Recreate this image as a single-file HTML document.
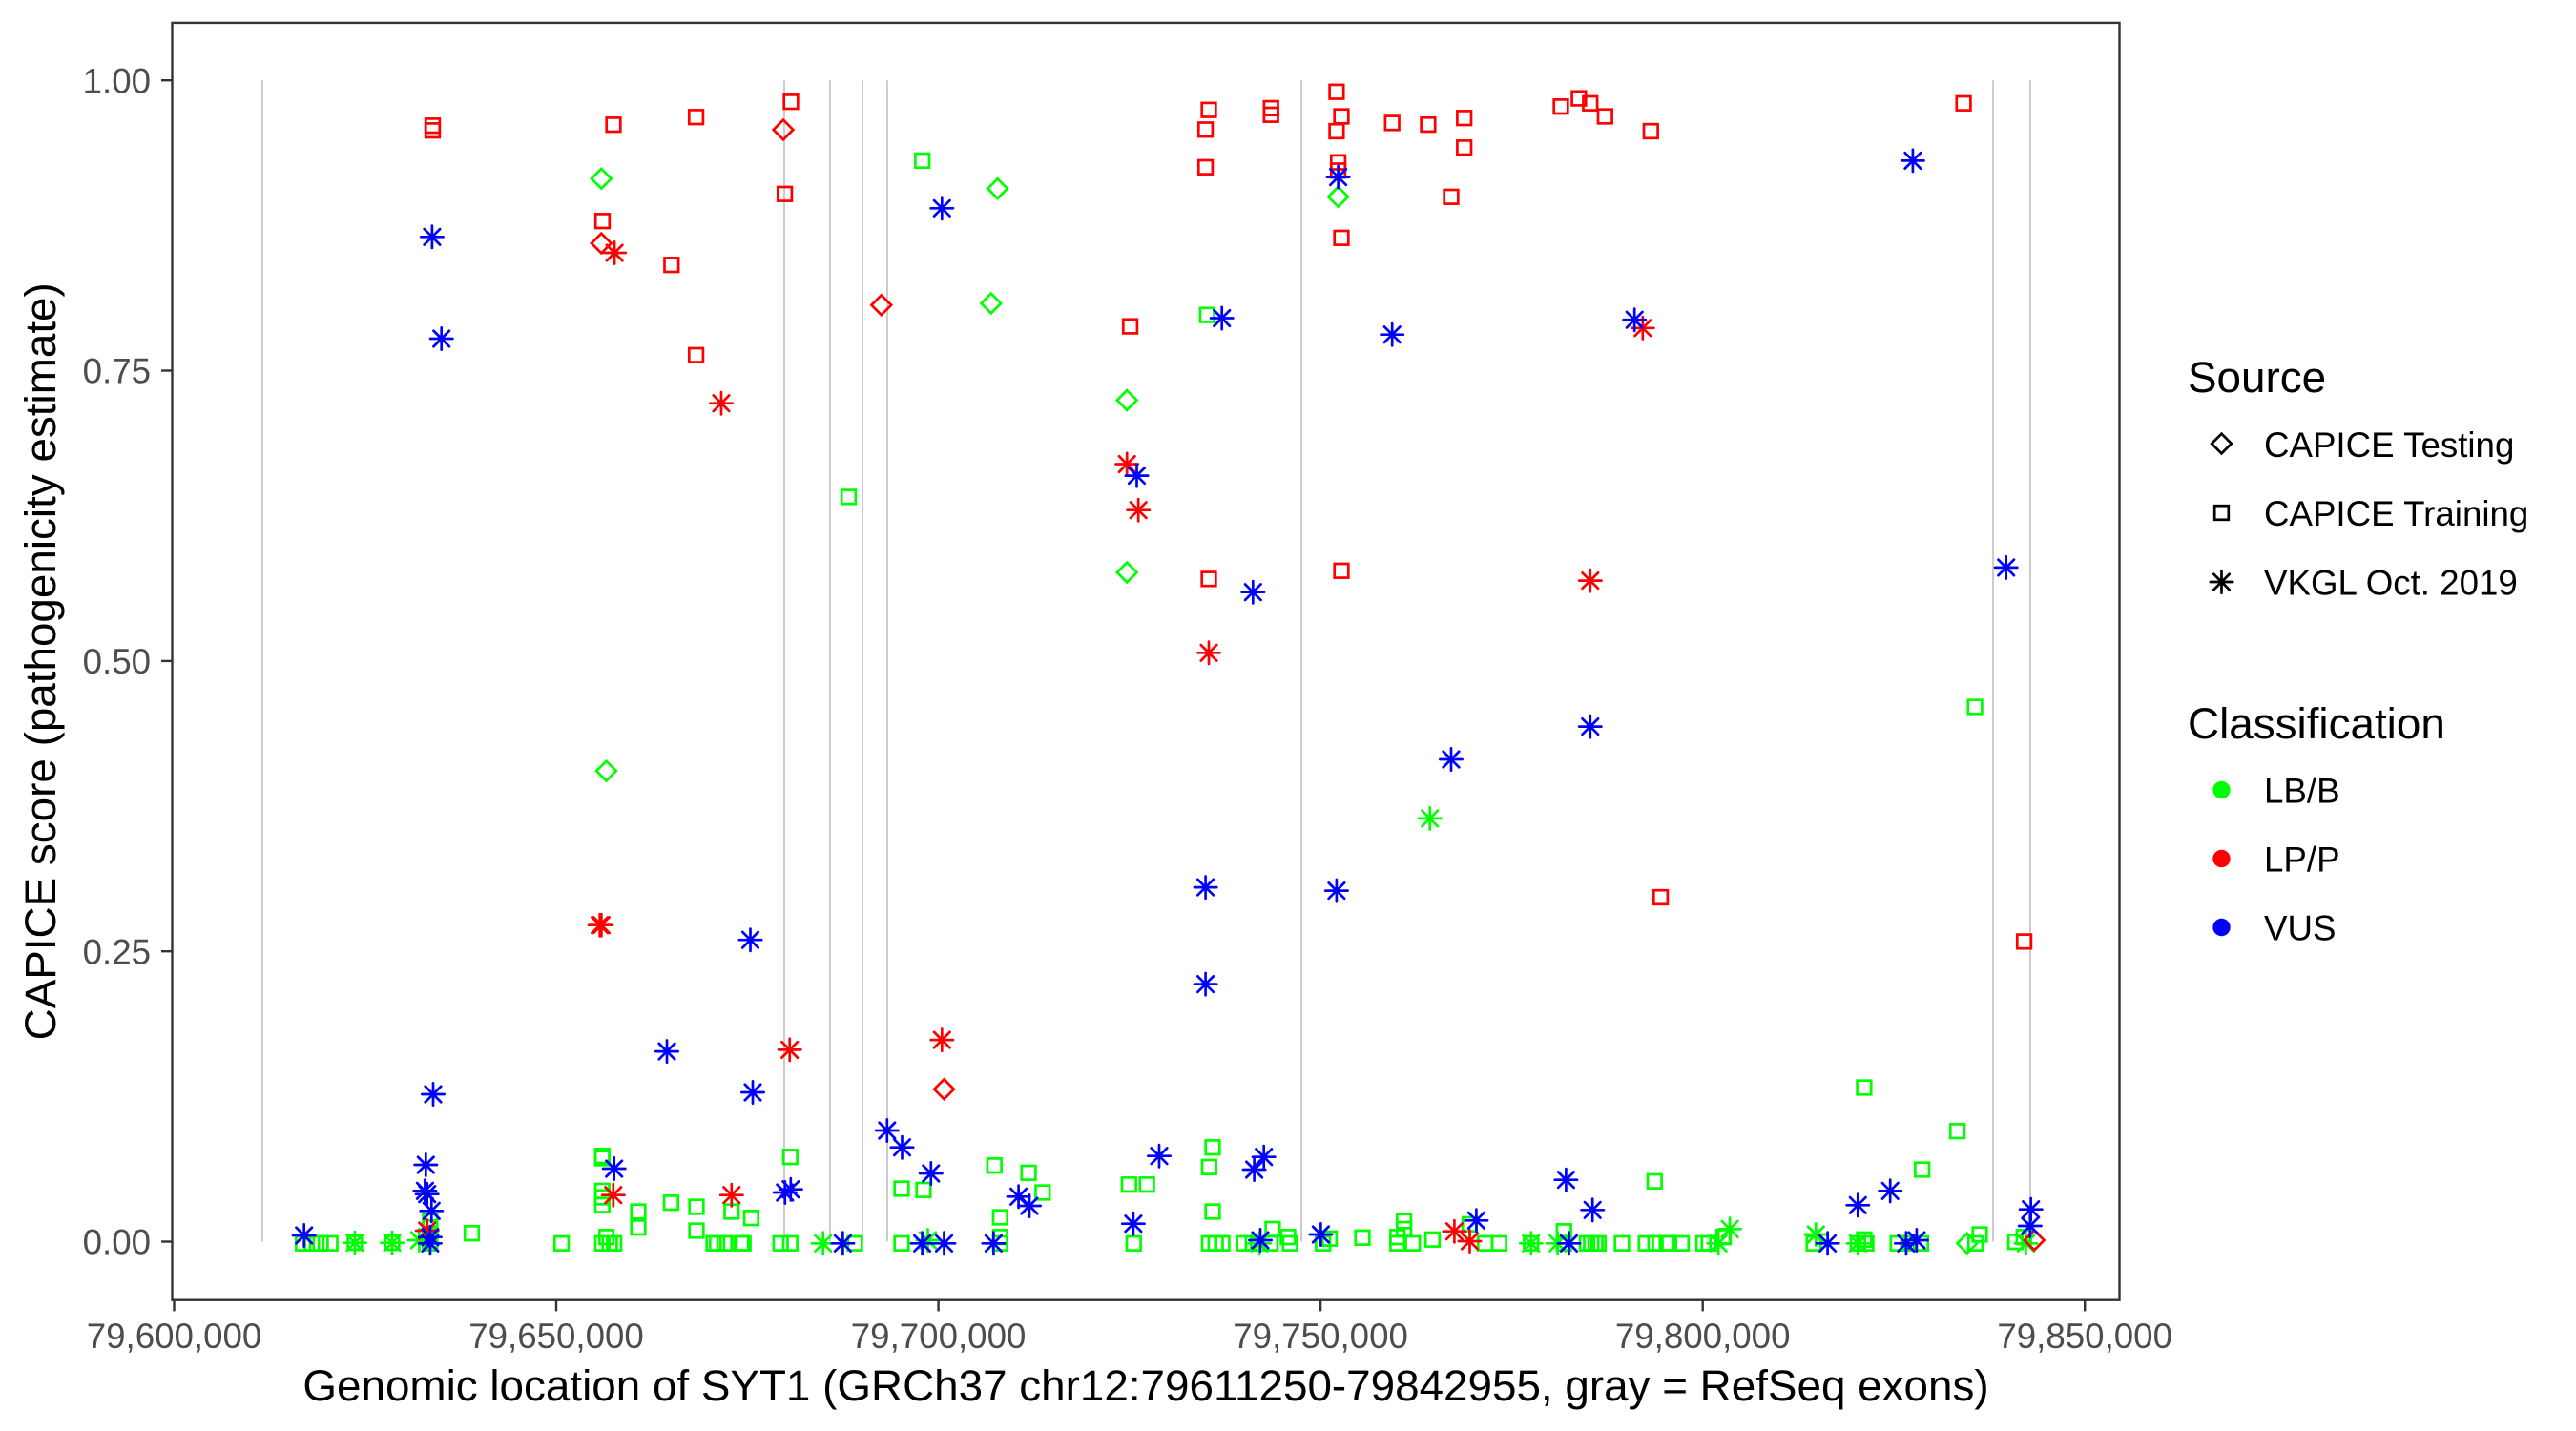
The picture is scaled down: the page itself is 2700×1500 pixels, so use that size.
<!DOCTYPE html>
<html><head><meta charset="utf-8"><style>
html,body{margin:0;padding:0;background:#fff;}
svg{display:block;}
text{font-family:"Liberation Sans",Arial,sans-serif;}
</style></head><body>
<svg width="2700" height="1500" viewBox="0 0 2700 1500" xmlns="http://www.w3.org/2000/svg">
<defs>
<rect id="s" x="-7.3" y="-7.3" width="14.6" height="14.6"/>
<path id="d" d="M0,-10.33 L10.33,0 L0,10.33 L-10.33,0 Z"/>
<path id="a" d="M-8.24,-8.24 L8.24,8.24 M-8.24,8.24 L8.24,-8.24 M-11.65,0 L11.65,0 M0,-11.65 L0,11.65"/>
</defs>
<rect x="0" y="0" width="2700" height="1500" fill="#fff"/>
<!-- exon lines -->
<g stroke="#CCCCCC" stroke-width="2">
<line x1="275" y1="84.2" x2="275" y2="1301.5"/>
<line x1="822" y1="84.2" x2="822" y2="1301.5"/>
<line x1="870" y1="84.2" x2="870" y2="1301.5"/>
<line x1="904" y1="84.2" x2="904" y2="1301.5"/>
<line x1="930" y1="84.2" x2="930" y2="1301.5"/>
<line x1="1364" y1="84.2" x2="1364" y2="1301.5"/>
<line x1="2089" y1="84.2" x2="2089" y2="1301.5"/>
<line x1="2128" y1="84.2" x2="2128" y2="1301.5"/>
</g>
<!-- green squares -->
<g stroke="#00FF00" stroke-width="2.7" fill="none">
<use href="#s" x="966.7" y="168.4"/><use href="#s" x="889.5" y="520.9"/><use href="#s" x="1265.3" y="330.1"/><use href="#s" x="2070.1" y="741"/>
<use href="#s" x="1953.9" y="1140"/><use href="#s" x="2051.6" y="1185.7"/><use href="#s" x="2014.7" y="1226"/><use href="#s" x="1734.3" y="1238.3"/>
<use href="#s" x="317.7" y="1303.3"/><use href="#s" x="326.9" y="1303.3"/><use href="#s" x="336.1" y="1303.3"/><use href="#s" x="346.2" y="1303.3"/>
<use href="#s" x="371.9" y="1302.7"/><use href="#s" x="411" y="1302.7"/>
<use href="#s" x="450.9" y="1280"/><use href="#s" x="450.9" y="1286.7"/><use href="#s" x="450.9" y="1293.3"/><use href="#s" x="450.9" y="1300"/><use href="#s" x="450.9" y="1303.3"/>
<use href="#s" x="494.5" y="1292.7"/><use href="#s" x="588.6" y="1303.3"/>
<use href="#s" x="631.3" y="1211.7"/><use href="#s" x="631.3" y="1214"/><use href="#s" x="631.3" y="1248.3"/><use href="#s" x="631.3" y="1255"/><use href="#s" x="631.3" y="1263.3"/><use href="#s" x="635.6" y="1296.7"/><use href="#s" x="631.3" y="1303.3"/><use href="#s" x="639.1" y="1303.3"/><use href="#s" x="643.7" y="1303.3"/>
<use href="#s" x="669" y="1270"/><use href="#s" x="669" y="1286.7"/><use href="#s" x="703.4" y="1260.7"/><use href="#s" x="730" y="1265"/><use href="#s" x="730" y="1290"/><use href="#s" x="748" y="1303.3"/><use href="#s" x="751.6" y="1303.3"/><use href="#s" x="759.4" y="1303.3"/><use href="#s" x="776.9" y="1303.3"/><use href="#s" x="779.2" y="1303.3"/><use href="#s" x="766.8" y="1270"/><use href="#s" x="787.4" y="1276.7"/>
<use href="#s" x="828.3" y="1212.7"/><use href="#s" x="818.2" y="1303.3"/><use href="#s" x="828.3" y="1303.3"/><use href="#s" x="896" y="1303.3"/>
<use href="#s" x="945" y="1246"/><use href="#s" x="968" y="1247.3"/><use href="#s" x="945" y="1303.3"/>
<use href="#s" x="1042.3" y="1221.7"/><use href="#s" x="1078.1" y="1229.3"/><use href="#s" x="1092.8" y="1250"/><use href="#s" x="1048.3" y="1276"/><use href="#s" x="1048.3" y="1296.7"/><use href="#s" x="1048.3" y="1303.3"/>
<use href="#s" x="1183.3" y="1241.7"/><use href="#s" x="1202.1" y="1241.7"/><use href="#s" x="1188.3" y="1303.3"/>
<use href="#s" x="1271" y="1202.7"/><use href="#s" x="1267.3" y="1223.3"/><use href="#s" x="1271" y="1270"/><use href="#s" x="1267.3" y="1303.3"/><use href="#s" x="1274.2" y="1303.3"/><use href="#s" x="1281.1" y="1303.3"/>
<use href="#s" x="1304" y="1303.3"/><use href="#s" x="1313.2" y="1303.3"/><use href="#s" x="1333.9" y="1288.3"/><use href="#s" x="1331.6" y="1303.3"/><use href="#s" x="1350" y="1296.7"/><use href="#s" x="1352.2" y="1303.3"/>
<use href="#s" x="1386.7" y="1303.3"/><use href="#s" x="1393.6" y="1298.3"/><use href="#s" x="1428" y="1297.3"/>
<use href="#s" x="1471.6" y="1280"/><use href="#s" x="1471.6" y="1288.3"/><use href="#s" x="1464.7" y="1296.7"/><use href="#s" x="1464.7" y="1303.3"/><use href="#s" x="1480.8" y="1303.3"/><use href="#s" x="1501.5" y="1299.3"/>
<use href="#s" x="1540.5" y="1283.3"/><use href="#s" x="1556.6" y="1303.3"/><use href="#s" x="1571.3" y="1303.3"/><use href="#s" x="1604.8" y="1303.3"/>
<use href="#s" x="1639.2" y="1290.7"/><use href="#s" x="1639.2" y="1303.3"/>
<use href="#s" x="1663.4" y="1303.3"/><use href="#s" x="1667.8" y="1303.3"/><use href="#s" x="1672.2" y="1303.3"/><use href="#s" x="1675.3" y="1303.3"/>
<use href="#s" x="1700" y="1303.3"/><use href="#s" x="1725.1" y="1303.3"/><use href="#s" x="1735.2" y="1303.3"/><use href="#s" x="1747.1" y="1303.3"/><use href="#s" x="1749.3" y="1303.3"/><use href="#s" x="1762.5" y="1303.3"/><use href="#s" x="1785.4" y="1303.3"/><use href="#s" x="1791.1" y="1303.3"/><use href="#s" x="1806.5" y="1296.7"/>
<use href="#s" x="1901.1" y="1303.3"/><use href="#s" x="1947.3" y="1303.3"/><use href="#s" x="1953.9" y="1299.3"/><use href="#s" x="1956.1" y="1303.3"/>
<use href="#s" x="1989.1" y="1303.3"/><use href="#s" x="2000.1" y="1303.3"/><use href="#s" x="2013.4" y="1303.3"/>
<use href="#s" x="2070.6" y="1303.3"/><use href="#s" x="2075" y="1294"/><use href="#s" x="2112.4" y="1301.7"/><use href="#s" x="2121.2" y="1296.7"/>
</g>
<!-- green asterisks -->
<g stroke="#00FF00" stroke-width="2.7" fill="none" stroke-linecap="round">
<use href="#a" x="1498.7" y="857.9"/><use href="#a" x="371.9" y="1302.7"/><use href="#a" x="411" y="1302.7"/><use href="#a" x="439.4" y="1300"/>
<use href="#a" x="862.7" y="1303.3"/><use href="#a" x="972.5" y="1300"/><use href="#a" x="1320.1" y="1303.3"/><use href="#a" x="1604.8" y="1303.3"/>
<use href="#a" x="1632.6" y="1303.3"/><use href="#a" x="1801.2" y="1303.3"/><use href="#a" x="1813.1" y="1288.3"/><use href="#a" x="1903.3" y="1294"/>
<use href="#a" x="1947.3" y="1303.3"/><use href="#a" x="2123.4" y="1303.3"/>
</g>
<!-- green diamonds -->
<g stroke="#00FF00" stroke-width="2.7" fill="none">
<use href="#d" x="630.3" y="187.3"/><use href="#d" x="1045.6" y="197.7"/><use href="#d" x="1038.8" y="318"/><use href="#d" x="1181.2" y="419.5"/>
<use href="#d" x="1181.2" y="600"/><use href="#d" x="1402.6" y="206.3"/><use href="#d" x="635.5" y="808.1"/><use href="#d" x="2061.8" y="1303.3"/>
</g>
<!-- red squares -->
<g stroke="#FF0000" stroke-width="2.7" fill="none">
<use href="#s" x="453.5" y="131.7"/><use href="#s" x="453.5" y="136.7"/>
<use href="#s" x="643" y="130.7"/><use href="#s" x="729.6" y="122.7"/><use href="#s" x="829" y="106.7"/><use href="#s" x="822.6" y="203.3"/><use href="#s" x="631.5" y="231.7"/><use href="#s" x="703.8" y="277.7"/><use href="#s" x="729.6" y="372.3"/>
<use href="#s" x="1184.6" y="342.1"/>
<use href="#s" x="1267" y="115.2"/><use href="#s" x="1263.6" y="135.8"/><use href="#s" x="1263.6" y="175.3"/><use href="#s" x="1267" y="606.9"/>
<use href="#s" x="1332.2" y="113.4"/><use href="#s" x="1332.2" y="120.3"/>
<use href="#s" x="1400.9" y="96.2"/><use href="#s" x="1406" y="122"/><use href="#s" x="1400.9" y="137.5"/><use href="#s" x="1402.6" y="170.2"/><use href="#s" x="1402.6" y="178.8"/><use href="#s" x="1406" y="249.3"/><use href="#s" x="1406" y="598.3"/>
<use href="#s" x="1459.2" y="128.9"/><use href="#s" x="1496.9" y="130.6"/><use href="#s" x="1534.7" y="123.7"/><use href="#s" x="1534.7" y="154.7"/><use href="#s" x="1521" y="206.3"/>
<use href="#s" x="1636" y="111.7"/><use href="#s" x="1654.9" y="103.1"/><use href="#s" x="1666.8" y="108.3"/><use href="#s" x="1682.3" y="122"/><use href="#s" x="1730.3" y="137.5"/>
<use href="#s" x="1740.6" y="940.5"/><use href="#s" x="2058.1" y="108.3"/><use href="#s" x="2121.6" y="986.9"/>
</g>
<!-- red asterisks -->
<g stroke="#FF0000" stroke-width="2.7" fill="none" stroke-linecap="round">
<use href="#a" x="644.1" y="265"/><use href="#a" x="756" y="422.7"/>
<use href="#a" x="1181.2" y="486.5"/><use href="#a" x="1193.2" y="534.7"/><use href="#a" x="1267" y="684.3"/>
<use href="#a" x="1721.8" y="343.8"/><use href="#a" x="1666.8" y="608.6"/>
<use href="#a" x="628.7" y="969.7"/><use href="#a" x="630.4" y="969.7"/>
<use href="#a" x="827.7" y="1100.4"/><use href="#a" x="987.3" y="1090.1"/>
<use href="#a" x="447.7" y="1290"/><use href="#a" x="642.8" y="1252.7"/><use href="#a" x="766.8" y="1252.7"/>
<use href="#a" x="1524.4" y="1290.7"/><use href="#a" x="1540.5" y="1301"/>
</g>
<!-- red diamonds -->
<g stroke="#FF0000" stroke-width="2.7" fill="none">
<use href="#d" x="821" y="136"/><use href="#d" x="630.3" y="255"/><use href="#d" x="923.8" y="319.8"/><use href="#d" x="989.5" y="1141.7"/><use href="#d" x="2132.2" y="1300"/>
</g>
<!-- blue asterisks -->
<g stroke="#0000FF" stroke-width="2.7" fill="none" stroke-linecap="round">
<use href="#a" x="452.9" y="248.3"/><use href="#a" x="462.7" y="355"/><use href="#a" x="987.3" y="218.3"/><use href="#a" x="1191.5" y="498.6"/>
<use href="#a" x="1280.7" y="333.5"/><use href="#a" x="1313.3" y="620.7"/><use href="#a" x="1402.6" y="185.6"/><use href="#a" x="1459.2" y="350.7"/>
<use href="#a" x="1713.2" y="335.2"/><use href="#a" x="2004.9" y="168.4"/><use href="#a" x="2102.7" y="594.9"/>
<use href="#a" x="1521" y="796"/><use href="#a" x="1666.8" y="761.6"/><use href="#a" x="1400.9" y="933.6"/><use href="#a" x="1263.6" y="930.1"/><use href="#a" x="1263.6" y="1031.6"/>
<use href="#a" x="786.5" y="985.2"/><use href="#a" x="699" y="1102.1"/><use href="#a" x="789" y="1145"/><use href="#a" x="454" y="1147"/>
<use href="#a" x="318.7" y="1295"/><use href="#a" x="446.3" y="1221"/><use href="#a" x="445.4" y="1248.3"/><use href="#a" x="447.7" y="1251.7"/><use href="#a" x="452.3" y="1269.3"/><use href="#a" x="450.9" y="1296.7"/><use href="#a" x="450.9" y="1303.3"/>
<use href="#a" x="643.7" y="1225"/><use href="#a" x="822.8" y="1250"/><use href="#a" x="828.8" y="1246.7"/><use href="#a" x="883.4" y="1303.3"/>
<use href="#a" x="929.8" y="1185"/><use href="#a" x="945.5" y="1202.7"/><use href="#a" x="975.8" y="1230"/><use href="#a" x="966.6" y="1303.3"/><use href="#a" x="989.5" y="1303.3"/>
<use href="#a" x="1067.6" y="1254.3"/><use href="#a" x="1079" y="1264"/><use href="#a" x="1041.4" y="1303.3"/><use href="#a" x="1187.9" y="1282.7"/><use href="#a" x="1215" y="1211.7"/>
<use href="#a" x="1324.7" y="1212.7"/><use href="#a" x="1314.6" y="1226"/><use href="#a" x="1321" y="1300"/><use href="#a" x="1384.4" y="1294"/><use href="#a" x="1547.4" y="1279.3"/>
<use href="#a" x="1641.4" y="1236.7"/><use href="#a" x="1669.2" y="1268.3"/><use href="#a" x="1644.5" y="1303.3"/><use href="#a" x="1915.6" y="1303.3"/>
<use href="#a" x="1947.3" y="1263.3"/><use href="#a" x="1981.2" y="1248.3"/><use href="#a" x="1997.9" y="1303.3"/><use href="#a" x="2008.9" y="1300"/>
<use href="#a" x="2128.7" y="1267.7"/><use href="#a" x="2127.8" y="1285"/>
</g>
<!-- panel border -->
<rect x="180.5" y="23.9" width="2041" height="1338.8" fill="none" stroke="#333333" stroke-width="2.4"/>
<!-- ticks -->
<g stroke="#333333" stroke-width="2.4">
<line x1="169" y1="1301.5" x2="180.5" y2="1301.5"/>
<line x1="169" y1="997.2" x2="180.5" y2="997.2"/>
<line x1="169" y1="692.9" x2="180.5" y2="692.9"/>
<line x1="169" y1="388.5" x2="180.5" y2="388.5"/>
<line x1="169" y1="84.2" x2="180.5" y2="84.2"/>
<line x1="182.5" y1="1362.7" x2="182.5" y2="1374.4"/>
<line x1="583" y1="1362.7" x2="583" y2="1374.4"/>
<line x1="983.6" y1="1362.7" x2="983.6" y2="1374.4"/>
<line x1="1384.1" y1="1362.7" x2="1384.1" y2="1374.4"/>
<line x1="1784.7" y1="1362.7" x2="1784.7" y2="1374.4"/>
<line x1="2185.2" y1="1362.7" x2="2185.2" y2="1374.4"/>
</g>
<g font-size="36.7" fill="#4D4D4D" text-anchor="end">
<text x="158" y="1314.6">0.00</text>
<text x="158" y="1010.3">0.25</text>
<text x="158" y="706">0.50</text>
<text x="158" y="401.6">0.75</text>
<text x="158" y="97.3">1.00</text>
</g>
<g font-size="36.7" fill="#4D4D4D" text-anchor="middle">
<text x="182.5" y="1413">79,600,000</text>
<text x="583" y="1413">79,650,000</text>
<text x="983.6" y="1413">79,700,000</text>
<text x="1384.1" y="1413">79,750,000</text>
<text x="1784.7" y="1413">79,800,000</text>
<text x="2185.2" y="1413">79,850,000</text>
</g>
<text x="1201" y="1468" font-size="45.8" fill="#000" text-anchor="middle">Genomic location of SYT1 (GRCh37 chr12:79611250-79842955, gray = RefSeq exons)</text>
<text transform="translate(58,693.3) rotate(-90)" font-size="45.8" fill="#000" text-anchor="middle">CAPICE score (pathogenicity estimate)</text>
<!-- legend -->
<text x="2293" y="411" font-size="45.8" fill="#000">Source</text>
<g stroke="#000" stroke-width="2.7" fill="none" stroke-linecap="round">
<use href="#d" x="2328.5" y="465"/>
<use href="#s" x="2328.5" y="537.5"/>
<use href="#a" x="2328.5" y="610"/>
</g>
<g font-size="36.7" fill="#000">
<text x="2373" y="479">CAPICE Testing</text>
<text x="2373" y="551">CAPICE Training</text>
<text x="2373" y="623.5">VKGL Oct. 2019</text>
</g>
<text x="2293" y="774" font-size="45.8" fill="#000">Classification</text>
<circle cx="2328.5" cy="828" r="9.2" fill="#00FF00"/>
<circle cx="2328.5" cy="900" r="9.2" fill="#FF0000"/>
<circle cx="2328.5" cy="972" r="9.2" fill="#0000FF"/>
<g font-size="36.7" fill="#000">
<text x="2373" y="841.4">LB/B</text>
<text x="2373" y="913.4">LP/P</text>
<text x="2373" y="985.5">VUS</text>
</g>
</svg>
</body></html>
